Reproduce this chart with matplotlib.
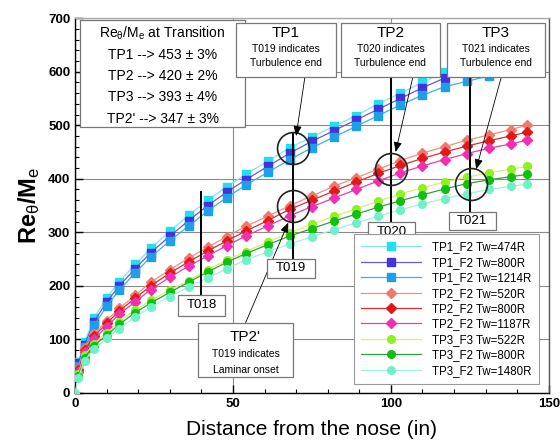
import numpy as np
import matplotlib
matplotlib.use('Agg')
import matplotlib.pyplot as plt

plt.rcParams['font.family'] = ['Liberation Sans', 'DejaVu Sans']
plt.rcParams['mathtext.fontset'] = 'custom'
plt.rcParams['mathtext.rm'] = 'Liberation Sans'
plt.rcParams['mathtext.it'] = 'Liberation Sans'
plt.rcParams['mathtext.bf'] = 'Liberation Sans:bold'

# ---- data ----
x_tp = [1, 3, 6, 10, 14, 19, 24, 30, 36, 42, 48, 54, 61, 68, 75, 82, 89, 96, 103, 110, 117, 124, 131, 138, 143]
tp1_474 = [58, 95, 140, 178, 208, 240, 270, 302, 332, 360, 385, 408, 433, 458, 478, 498, 518, 540, 560, 580, 600, 616, 632, 645, 655]
tp1_800 = [55, 90, 133, 170, 200, 232, 262, 293, 322, 350, 375, 398, 423, 448, 470, 490, 510, 530, 550, 570, 588, 604, 620, 634, 644]
tp1_1214 = [50, 85, 126, 162, 192, 224, 254, 284, 312, 340, 365, 388, 412, 436, 458, 478, 498, 518, 538, 556, 572, 582, 592, 600, 606]
tp2_520 = [45, 84, 110, 135, 158, 182, 207, 230, 252, 272, 292, 311, 330, 350, 368, 386, 402, 418, 434, 448, 460, 472, 482, 492, 500]
tp2_800 = [42, 80, 106, 130, 153, 177, 200, 224, 245, 265, 284, 302, 322, 343, 360, 377, 394, 410, 425, 438, 450, 461, 471, 480, 487]
tp2_1187 = [40, 76, 100, 124, 147, 170, 193, 216, 237, 256, 275, 293, 312, 331, 348, 364, 380, 396, 411, 424, 436, 447, 457, 465, 472]
tp3_522 = [35, 70, 92, 112, 132, 155, 173, 192, 210, 230, 248, 264, 282, 299, 315, 330, 344, 358, 372, 383, 394, 403, 411, 418, 423]
tp3_800 = [32, 66, 88, 108, 128, 150, 168, 188, 207, 226, 244, 260, 277, 293, 307, 321, 334, 347, 359, 370, 381, 391, 398, 404, 408]
x_tp3b = [0] + x_tp
tp3_1480 = [0, 28, 60, 82, 102, 120, 142, 160, 180, 198, 215, 232, 248, 264, 278, 292, 305, 318, 330, 342, 353, 363, 372, 380, 386, 390]

series = [
    ('TP1_F2 Tw=474R', x_tp, tp1_474, '#7fe8f0', '#20e0f0', 's'),
    ('TP1_F2 Tw=800R', x_tp, tp1_800, '#6a5acd', '#4433dd', 's'),
    ('TP1_F2 Tw=1214R', x_tp, tp1_1214, '#40b0e0', '#1ea0e8', 's'),
    ('TP2_F2 Tw=520R', x_tp, tp2_520, '#f09080', '#f07868', 'D'),
    ('TP2_F2 Tw=800R', x_tp, tp2_800, '#d83030', '#e01818', 'D'),
    ('TP2_F2 Tw=1187R', x_tp, tp2_1187, '#e040b0', '#f030b0', 'D'),
    ('TP3_F3 Tw=522R', x_tp, tp3_522, '#d8f070', '#90f020', 'o'),
    ('TP3_F2 Tw=800R', x_tp, tp3_800, '#30a040', '#10c010', 'o'),
    ('TP3_F2 Tw=1480R', x_tp3b, tp3_1480, '#a0f0e0', '#70f0c8', 'o'),
]

box_lines = ['TP1 --> 453 ± 3%', 'TP2 --> 420 ± 2%', 'TP3 --> 393 ± 4%', "TP2' --> 347 ± 3%"]

fig = plt.figure(figsize=(5.6, 4.43), dpi=100)
ax = fig.add_axes([0.134, 0.113, 0.846, 0.846])

ax.set_xlim(0, 150); ax.set_ylim(0, 700)
ax.set_xticks([0, 50, 100, 150]); ax.set_yticks(range(0, 701, 100))
ax.set_xticks(range(0, 151, 10), minor=True)
ax.set_yticks(range(0, 701, 20), minor=True)
ax.tick_params(which='both', direction='in', labelsize=9.5)
ax.tick_params(which='major', length=6, width=1)
ax.tick_params(which='minor', length=3, width=0.8)
for lab in ax.get_xticklabels() + ax.get_yticklabels():
    lab.set_fontweight('bold')
ax.grid(True, which='major', color='#8a8a8a', lw=0.8)
for s in ax.spines.values():
    s.set_linewidth(1.0)
ax.spines['top'].set_color('#aaaaaa'); ax.spines['right'].set_color('#555555')

for lbl, xs, ys, lc, mc, mk in series:
    ax.plot(xs, ys, '-', color=lc, lw=0.9, marker=mk, ms=5.5 if mk != 'D' else 5,
            mfc=mc, mec=mc, label=lbl, zorder=3)

ax.set_xlabel('Distance from the nose (in)', fontsize=15, labelpad=7)
ax.set_ylabel(r'Re$_\theta$/M$_\mathrm{e}$', fontsize=17, fontweight='bold', labelpad=4)

# ---- vertical thermocouple lines ----
vl = dict(color='k', lw=1.4, zorder=4)
ax.plot([40, 40], [375, 175], **vl)
ax.plot([69, 69], [485, 240], **vl)
ax.plot([100, 100], [595, 275], **vl)
ax.plot([125, 125], [590, 330], **vl)

# circles
for cx, cy in [(69, 458), (69, 349), (100, 418), (125.5, 390)]:
    ax.plot(cx, cy, 'o', ms=23, mfc='none', mec='#222222', mew=1.2, zorder=5)

def box(x0, x1, y0, y1):
    ax.add_patch(plt.Rectangle((x0, y0), x1 - x0, y1 - y0, fc='white', ec='#777777',
                               lw=0.9, zorder=8))

# summary box
box(1.6, 53.8, 496, 696)
ax.text(27.7, 672, r'Re$_\theta$/M$_\mathrm{e}$ at Transition', ha='center', va='center', fontsize=10, zorder=9)
for i, t in enumerate(box_lines):
    ax.text(27.7, 631 - i * 39.5, t, ha='center', va='center', fontsize=10, zorder=9)

# TP boxes
for (x0, x1), title, tc in [((50.9, 82.6), 'TP1', 'T019'), ((84.2, 115.5), 'TP2', 'T020'),
                            ((117.7, 148.7), 'TP3', 'T021')]:
    box(x0, x1, 591, 691)
    xc = (x0 + x1) / 2
    ax.text(xc, 672, title, ha='center', va='center', fontsize=11, zorder=9)
    ax.text(xc, 642, tc + ' indicates', ha='center', va='center', fontsize=7.5, zorder=9)
    ax.text(xc, 616, 'Turbulence end', ha='center', va='center', fontsize=7.5, zorder=9)

box(38.9, 69, 30, 131)
ax.text(54, 105, "TP2'", ha='center', va='center', fontsize=11, zorder=9)
ax.text(54, 73, 'T019 indicates', ha='center', va='center', fontsize=7.5, zorder=9)
ax.text(54, 43, 'Laminar onset', ha='center', va='center', fontsize=7.5, zorder=9)

for (x0, x1, y0, y1), t in [((32.6, 47.5, 144, 183), 'T018'), ((60.8, 75.9, 215, 250), 'T019'),
                            ((92.7, 107.6, 282, 319), 'T020'), ((118.4, 133.2, 304, 338), 'T021')]:
    box(x0, x1, y0, y1)
    ax.text((x0 + x1) / 2, (y0 + y1) / 2, t, ha='center', va='center', fontsize=9.5, zorder=9)

# arrows
ap = dict(arrowstyle='-|>,head_length=0.6,head_width=0.25', color='k', lw=0.6,
          shrinkA=0, shrinkB=0)
ax.annotate('', xy=(70, 480), xytext=(72.8, 591), arrowprops=ap, zorder=7)
ax.annotate('', xy=(101.5, 450), xytext=(107, 591), arrowprops=ap, zorder=7)
ax.annotate('', xy=(127, 418), xytext=(135, 591), arrowprops=ap, zorder=7)
ax.annotate('', xy=(67.5, 318), xytext=(54, 131), arrowprops=ap, zorder=7)

leg = ax.legend(loc='lower right', bbox_to_anchor=(0.991, 0.009), fontsize=8.3,
                handlelength=5.2, labelspacing=0.3, handletextpad=1.0, borderpad=0.6,
                fancybox=False, framealpha=1, edgecolor='#999999')
leg.set_zorder(10)
leg.get_frame().set_linewidth(0.8)

fig.savefig('out.png', dpi=100)
